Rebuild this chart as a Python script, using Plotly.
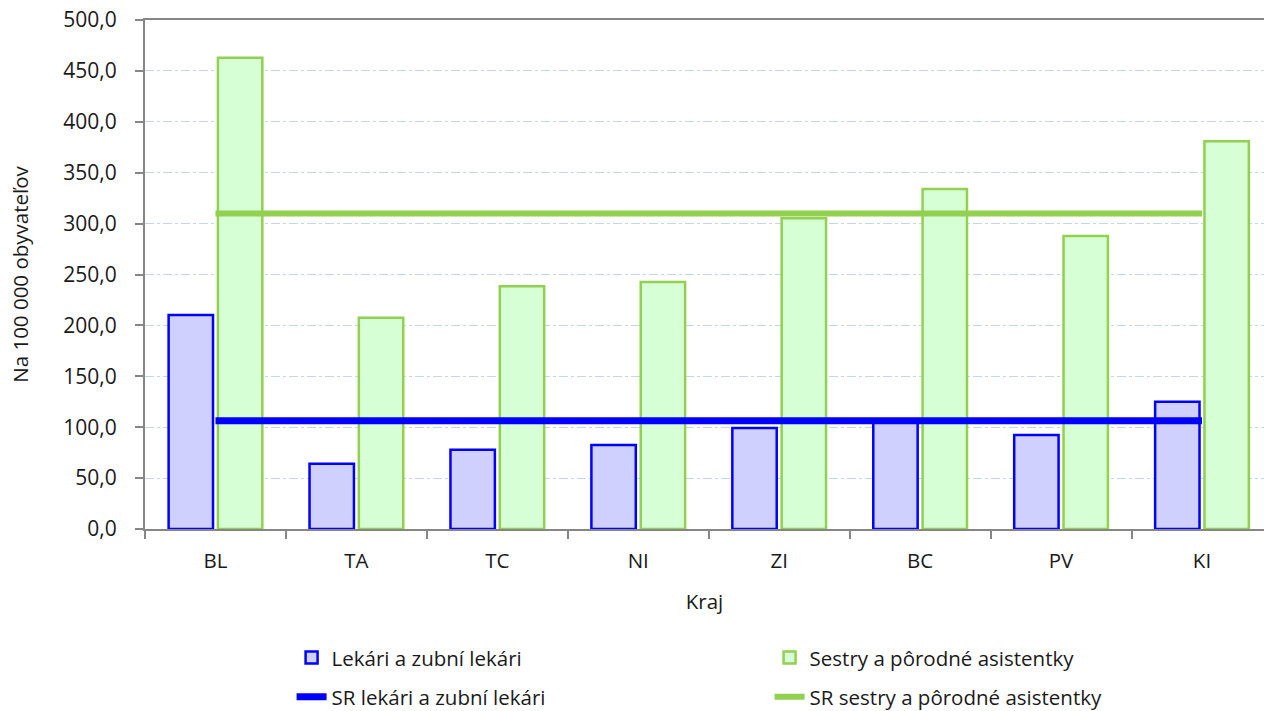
import plotly.graph_objects as go

categories = ["BL", "TA", "TC", "NI", "ZI", "BC", "PV", "KI"]
lekari = [210.3, 64.0, 77.8, 82.6, 99.3, 104.8, 92.4, 125.0]
sestry = [462.8, 207.4, 238.5, 242.6, 305.2, 334.0, 287.8, 381.0]
sr_lekari = 106.4
sr_sestry = 310.0

y_ticks = [0, 50, 100, 150, 200, 250, 300, 350, 400, 450, 500]

FONT = "Open Sans"
TXT = "#1a1a1a"

fig = go.Figure()
fig.add_trace(go.Bar(
    x=categories, y=lekari, name="Lekári a zubní lekári",
    marker=dict(color="#D0D0FF", line=dict(color="#0000FF", width=2.5)),
    legend="legend",
))
fig.add_trace(go.Bar(
    x=categories, y=sestry, name="Sestry a pôrodné asistentky",
    marker=dict(color="#D6FFD6", line=dict(color="#92D050", width=2.5)),
    legend="legend",
))
fig.add_trace(go.Scatter(
    x=[categories[0], categories[-1]], y=[sr_lekari, sr_lekari],
    mode="lines", name="SR lekári a zubní lekári",
    line=dict(color="#0000FF", width=7),
    legend="legend2",
))
fig.add_trace(go.Scatter(
    x=[categories[0], categories[-1]], y=[sr_sestry, sr_sestry],
    mode="lines", name="SR sestry a pôrodné asistentky",
    line=dict(color="#92D050", width=6),
    legend="legend2",
))

legend_common = dict(
    orientation="h", xanchor="left", yanchor="middle",
    entrywidth=433, entrywidthmode="pixels",
    font=dict(family=FONT, size=20.5, color=TXT),
    bgcolor="rgba(0,0,0,0)", traceorder="normal",
)

fig.update_layout(
    width=1264, height=711,
    margin=dict(l=145, r=0, t=20, b=182, autoexpand=False),
    plot_bgcolor="white", paper_bgcolor="white",
    separators=", ",
    barmode="group", bargap=0.3, bargroupgap=0.1,
    font=dict(family=FONT, size=20, color=TXT),
    legend=dict(x=0.131, y=-0.253, **legend_common),
    legend2=dict(x=0.131, y=-0.330, **legend_common),
)

fig.update_xaxes(
    range=[-0.5, 7.44],
    showline=True, linecolor="#868686", linewidth=2, mirror=True,
    ticks="outside", ticklen=8, tickcolor="#868686", tickwidth=2,
    tickson="boundaries",
    showgrid=False,
    tickfont=dict(family=FONT, size=20.5, color=TXT),
    ticklabelstandoff=12,
    title=dict(text="Kraj", font=dict(family=FONT, size=20.5, color=TXT), standoff=22),
)
fig.update_yaxes(
    range=[0, 500], tickvals=y_ticks, tickformat=".1f",
    showline=True, linecolor="#868686", linewidth=2,
    ticks="outside", ticklen=8, tickcolor="#868686", tickwidth=2,
    showgrid=True, gridcolor="#C5D5EA", gridwidth=1, griddash="dashdot",
    zeroline=False,
    tickfont=dict(family=FONT, size=21, color=TXT),
    ticklabelstandoff=14,
    title=dict(text="Na 100 000 obyvateľov", font=dict(family=FONT, size=20.5, color=TXT), standoff=29),
)

fig.write_html("out.html", config={"displayModeBar": False},
               post_script="document.body.style.margin='0';")
